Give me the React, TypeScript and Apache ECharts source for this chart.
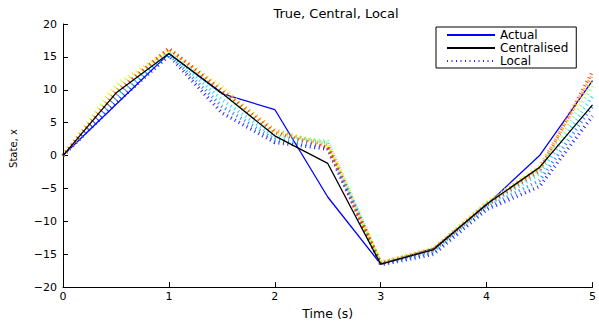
import React, { useEffect, useRef } from 'react';
import * as echarts from 'echarts';

// Time samples (s)
const times = [0, 0.5, 1, 1.5, 2, 2.5, 3, 3.5, 4, 4.5, 5];

// True state
const actual = [0, 7.75, 15.5, 9.4, 7.0, -6.3, -16.5, -14.1, -7.5, 0, 11.4];
// Centralised estimate
const centralised = [0, 9.5, 15.5, 9.5, 3.0, -1.2, -16.5, -14.3, -7.4, -1.8, 7.7];

// Local estimates (one per node)
const local1 = [0, 8.0, 15.2, 6.5, 2.0, 1.0, -16.6, -15.0, -8.2, -4.7, 6.0];
const local2 = [0, 8.6, 15.4, 7.5, 2.4, 1.3, -16.5, -14.7, -7.9, -3.8, 7.5];
const local3 = [0, 9.2, 15.6, 8.5, 2.8, 2.0, -16.4, -14.5, -7.6, -2.8, 9.0];
const local4 = [0, 10.2, 15.8, 9.5, 3.2, 2.2, -16.3, -14.2, -7.3, -2.2, 10.5];
const local5 = [0, 10.8, 16.0, 10.5, 3.6, 1.8, -16.2, -14.0, -7.1, -1.6, 11.5];
const local6 = [0, 9.8, 16.2, 10.0, 3.9, 1.5, -16.3, -14.2, -7.3, -1.9, 12.3];
const local7 = [0, 9.4, 16.3, 9.8, 3.5, 1.2, -16.4, -14.3, -7.5, -2.3, 12.8];
const locals = [local1, local2, local3, local4, local5, local6, local7];
const localNames = ['Local', 'Local 2', 'Local 3', 'Local 4', 'Local 5', 'Local 6', 'Local 7'];
const localColors = ['#0000ff', '#0070ff', '#00d8ff', '#70ff90', '#f0f000', '#ff9000', '#ff2000'];

const legendNames = ['Actual', 'Centralised', 'Local'];
const titleText = 'True, Central, Local';
const xName = 'Time (s)';
const yName = 'State, x';

const pair = (ys: number[]) => times.map((t, i) => [t, ys[i]]);
const FONT = 'DejaVu Sans';
const minus = (v: number) => String(v).replace('-', '\u2212');

export default function App() {
  const ref = useRef<HTMLDivElement>(null);
  useEffect(() => {
    document.body.style.margin = '0';
    const chart = echarts.init(ref.current!, null, { renderer: 'svg' });
    const series: any[] = [
      {
        name: 'Actual',
        type: 'line',
        data: pair(actual),
        symbol: 'none',
        lineStyle: { color: '#0000ff', width: 1.3 },
        itemStyle: { color: '#0000ff' },
        z: 2,
      },
      {
        name: 'Centralised',
        type: 'line',
        data: pair(centralised),
        symbol: 'none',
        lineStyle: { color: '#000000', width: 1.3 },
        itemStyle: { color: '#000000' },
        z: 4,
      },
      ...locals.map((ys, k) => ({
        name: localNames[k],
        type: 'line',
        data: pair(ys),
        symbol: 'none',
        lineStyle: { color: localColors[k], width: 3.5, type: [1, 3.5], opacity: 0.85 },
        itemStyle: { color: localColors[k] },
        z: 3,
      })),
    ];
    chart.setOption({
      animation: false,
      backgroundColor: '#ffffff',
      title: {
        text: titleText,
        left: 331,
        top: 2,
        textAlign: 'center',
        textStyle: { fontFamily: FONT, fontSize: 13, fontWeight: 'normal', color: '#000' },
      },
      legend: {
        data: legendNames,
        orient: 'vertical',
        left: 436,
        top: 27,
        padding: [2, 8, 1, 10],
        itemWidth: 48,
        itemHeight: 12,
        itemGap: 1,
        borderColor: '#000',
        borderWidth: 1,
        borderRadius: 0,
        backgroundColor: '#fff',
        itemStyle: { opacity: 0 },
        textStyle: { fontFamily: FONT, fontSize: 12, color: '#000', lineHeight: 12 },
      },
      grid: { left: 62, right: 4, top: 24, bottom: 31, containLabel: false },
      xAxis: {
        type: 'value',
        min: 0,
        max: 5,
        interval: 1,
        name: xName,
        nameLocation: 'middle',
        nameGap: 16,
        nameTextStyle: { fontFamily: FONT, fontSize: 12.5, color: '#000' },
        axisLine: { onZero: false, lineStyle: { color: '#000', width: 1 } },
        axisTick: { inside: true, length: 5, lineStyle: { color: '#000' } },
        axisLabel: { fontFamily: FONT, fontSize: 11, color: '#000', margin: 4, formatter: minus },
        splitLine: { show: false },
      },
      yAxis: {
        type: 'value',
        min: -20,
        max: 20,
        interval: 5,
        name: yName,
        nameLocation: 'middle',
        nameGap: 45,
        nameTextStyle: { fontFamily: FONT, fontSize: 10, color: '#000', padding: [0, 0, 0, 14] },
        axisLine: { onZero: false, lineStyle: { color: '#000', width: 1 } },
        axisTick: { inside: true, length: 5, lineStyle: { color: '#000' } },
        axisLabel: { fontFamily: FONT, fontSize: 11, color: '#000', margin: 6, formatter: minus },
        splitLine: { show: false },
      },
      series,
    });
    return () => chart.dispose();
  }, []);
  return <div ref={ref} style={{ width: 599, height: 325 }} />;
}
